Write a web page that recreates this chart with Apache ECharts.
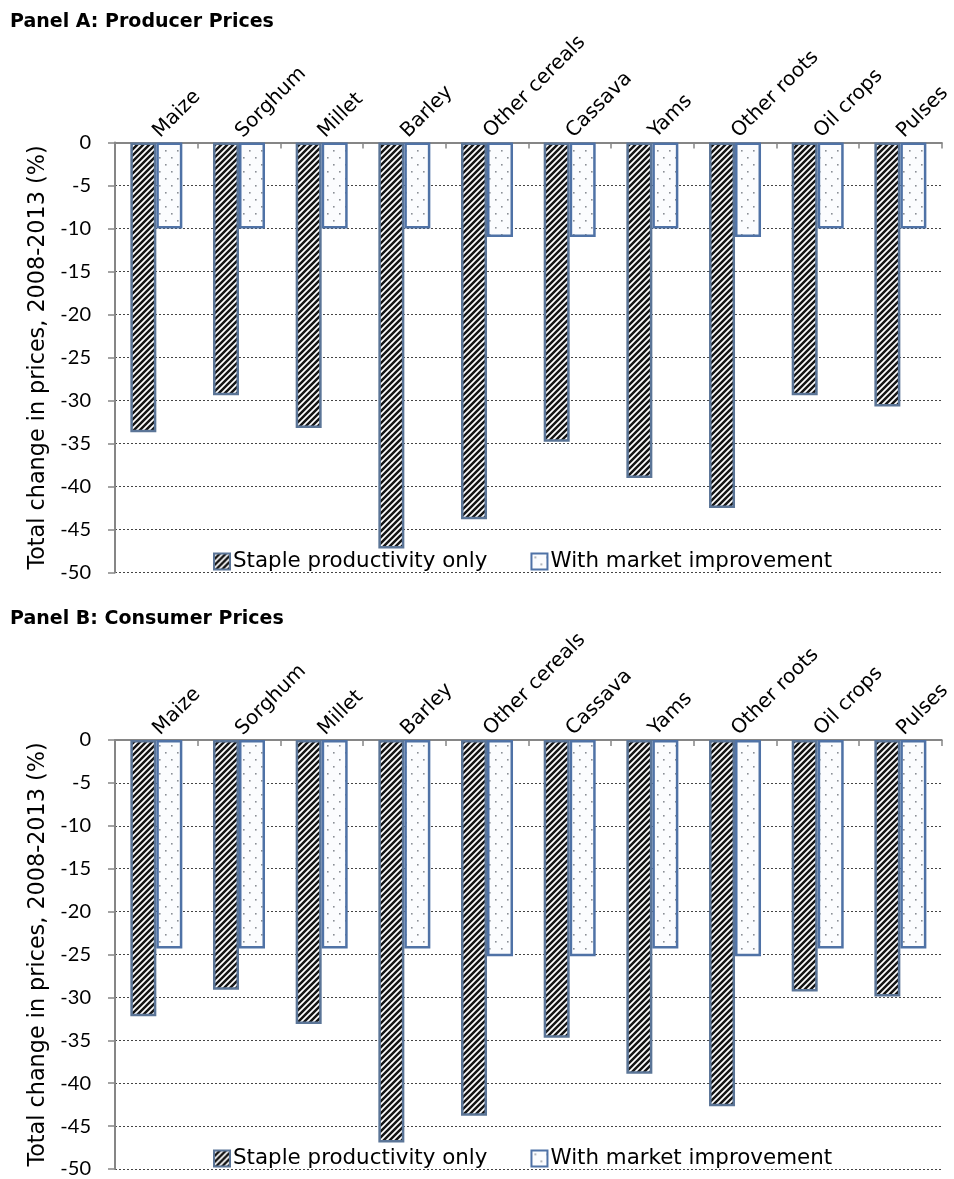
<!DOCTYPE html>
<html>
<head>
<meta charset="utf-8">
<script src="https://cdn.jsdelivr.net/npm/echarts@6/dist/echarts.min.js"></script>
<style>
  html, body { margin: 0; padding: 0; background: #fff; }
  #chart { width: 954px; height: 1179px; }
</style>
</head>
<body>
<div id="chart"></div>
<script>
// Crop categories shared by both panels
const crops = ['Maize', 'Sorghum', 'Millet', 'Barley', 'Other cereals', 'Cassava', 'Yams', 'Other roots', 'Oil crops', 'Pulses'];

// Panel A: producer prices, total % change 2008-2013
const producerStaple = [-33.7, -29.4, -33.2, -47.2, -43.8, -34.8, -39.0, -42.5, -29.4, -30.7];
const producerMarket = [-10.0, -10.0, -10.0, -10.0, -11.0, -11.0, -10.0, -11.0, -10.0, -10.0];

// Panel B: consumer prices, total % change 2008-2013
const consumerStaple = [-32.2, -29.1, -33.1, -46.9, -43.8, -34.7, -38.9, -42.7, -29.3, -29.9];
const consumerMarket = [-24.3, -24.3, -24.3, -24.3, -25.2, -25.2, -24.3, -25.2, -24.3, -24.3];

const yTicks = { min: -50, max: 0, step: 5 };
const seriesNames = ['Staple productivity only', 'With market improvement'];
const panelTitles = ['Panel A: Producer Prices', 'Panel B: Consumer Prices'];
const yAxisTitle = 'Total change in prices, 2008-2013 (%)';

const TEXT_FONT = '"DejaVu Sans", sans-serif';
const NUM_FONT = 'Lato, "DejaVu Sans", sans-serif';

// Wide upward diagonal hatch
function hatchTile() {
  const s = 6;
  const c = document.createElement('canvas');
  c.width = s; c.height = s;
  const g = c.getContext('2d');
  g.fillStyle = '#ffffff';
  g.fillRect(0, 0, s, s);
  g.strokeStyle = '#151515';
  g.lineWidth = 2.5;
  g.beginPath();
  g.moveTo(-1, s + 1); g.lineTo(s + 1, -1);
  g.moveTo(-1, 1); g.lineTo(1, -1);
  g.moveTo(s - 1, s + 1); g.lineTo(s + 1, s - 1);
  g.stroke();
  return c;
}

// Sparse dotted fill
function dotTile() {
  const w = 12, h = 14;
  const c = document.createElement('canvas');
  c.width = w; c.height = h;
  const g = c.getContext('2d');
  g.fillStyle = '#fbfcfe';
  g.fillRect(0, 0, w, h);
  g.fillStyle = '#8a8f96';
  g.fillRect(3, 3, 1.6, 1.6);
  g.fillRect(9, 10, 1.6, 1.6);
  return c;
}

const hatchFill = { image: hatchTile(), repeat: 'repeat' };
const dotFill = { image: dotTile(), repeat: 'repeat' };

const grids = [
  { left: 115, right: 9, top: 142.5, height: 430 },
  { left: 115, right: 9, top: 740, height: 430 }
];

function xAxisFor(i) {
  return {
    type: 'category',
    gridIndex: i,
    position: 'top',
    data: crops,
    axisLine: { show: true, lineStyle: { color: '#868686', width: 2 } },
    axisTick: { show: true, inside: true, length: 6, lineStyle: { color: '#868686', width: 1.5 } },
    axisLabel: { rotate: 45, fontFamily: TEXT_FONT, fontSize: 20, color: '#000', margin: 8 },
    splitLine: { show: false }
  };
}

function yAxisFor(i) {
  return {
    type: 'value',
    gridIndex: i,
    min: yTicks.min,
    max: yTicks.max,
    interval: yTicks.step,
    name: yAxisTitle,
    nameLocation: 'middle',
    nameGap: 65,
    nameTextStyle: { fontFamily: TEXT_FONT, fontSize: 22.3, color: '#000' },
    axisLine: { show: true, lineStyle: { color: '#868686', width: 2 } },
    axisTick: { show: true, inside: false, length: 7, lineStyle: { color: '#868686', width: 1.5 } },
    axisLabel: { fontFamily: NUM_FONT, fontSize: 20, color: '#000', margin: 24 },
    splitLine: { show: true, lineStyle: { color: '#444', width: 1, type: [2, 2] } }
  };
}

const staple = { color: hatchFill, borderColor: '#5b7597', borderWidth: 2.5 };
const market = { color: dotFill, borderColor: '#4f72a6', borderWidth: 2.5 };

function barSeries(name, data, style, i) {
  return {
    name: name,
    type: 'bar',
    xAxisIndex: i,
    yAxisIndex: i,
    data: data,
    barWidth: 26,
    barGap: '0%',
    itemStyle: style,
    emphasis: { disabled: true },
    animation: false
  };
}

function legendFor(top) {
  return {
    data: seriesNames,
    left: 208,
    top: top,
    itemWidth: 16,
    itemHeight: 16,
    itemGap: 43,
    icon: 'rect',
    textStyle: { fontFamily: TEXT_FONT, fontSize: 21.4, color: '#000', padding: [0, 0, 0, -2] },
    selectedMode: false
  };
}

const chart = echarts.init(document.getElementById('chart'), null, { renderer: 'canvas' });
chart.setOption({
  backgroundColor: '#ffffff',
  animation: false,
  title: [
    { text: panelTitles[0], left: 5, top: 8, textStyle: { fontFamily: TEXT_FONT, fontSize: 19, fontWeight: 'bold', color: '#000' } },
    { text: panelTitles[1], left: 5, top: 605, textStyle: { fontFamily: TEXT_FONT, fontSize: 19, fontWeight: 'bold', color: '#000' } }
  ],
  legend: [legendFor(546), legendFor(1143)],
  grid: grids,
  xAxis: [xAxisFor(0), xAxisFor(1)],
  yAxis: [yAxisFor(0), yAxisFor(1)],
  series: [
    barSeries(seriesNames[0], producerStaple, staple, 0),
    barSeries(seriesNames[1], producerMarket, market, 0),
    barSeries(seriesNames[0], consumerStaple, staple, 1),
    barSeries(seriesNames[1], consumerMarket, market, 1)
  ]
});
</script>
</body>
</html>
